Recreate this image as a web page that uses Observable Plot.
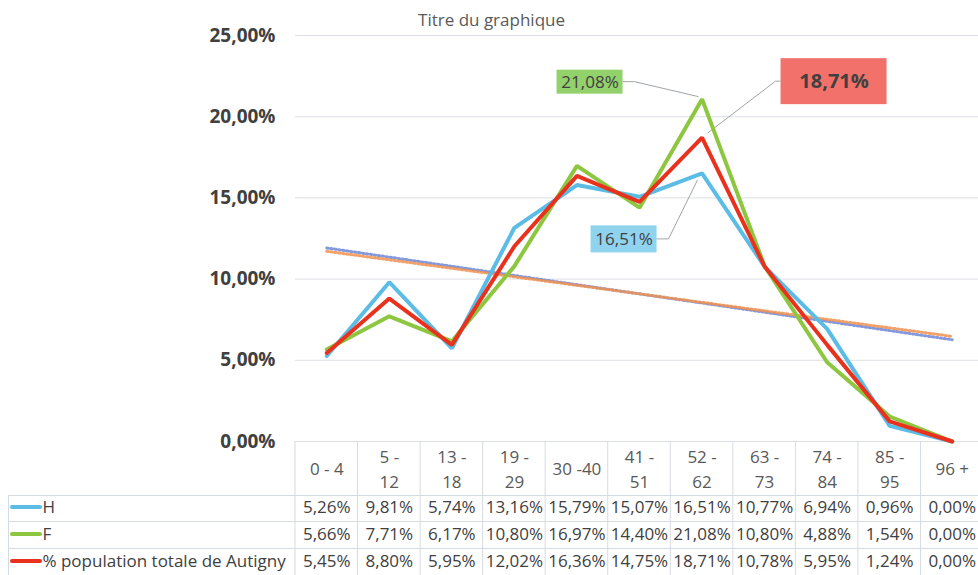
<!DOCTYPE html>
<html>
<head>
<meta charset="utf-8">
<script src="https://cdn.jsdelivr.net/npm/d3@7"></script>
<script src="https://cdn.jsdelivr.net/npm/@observablehq/plot@0.6"></script>
<style>
  html, body { margin: 0; padding: 0; background: #ffffff; }
  #chart svg { display: block; }
</style>
</head>
<body>
<div id="chart"></div>
<script>
// ---- data ----
const categories = ["0 - 4", "5 -\n12", "13 -\n18", "19 -\n29", "30 -40", "41 -\n51", "52 -\n62", "63 -\n73", "74 -\n84", "85 -\n95", "96 +"];
const hValues = [5.26, 9.81, 5.74, 13.16, 15.79, 15.07, 16.51, 10.77, 6.94, 0.96, 0.00];
const fValues = [5.66, 7.71, 6.17, 10.80, 16.97, 14.40, 21.08, 10.80, 4.88, 1.54, 0.00];
const totalValues = [5.45, 8.80, 5.95, 12.02, 16.36, 14.75, 18.71, 10.78, 5.95, 1.24, 0.00];
const seriesNames = ["H", "F", "% population totale de Autigny"];
const yTicks = [0, 5, 10, 15, 20, 25];
const chartTitle = "Titre du graphique";

// ---- styles ----
const seriesColors = ["#5bbce6", "#8dc63f", "#e8321e"];
const trendColors = {H: "#6f86d6", T: "#f0904f"};
const boxFills = ["#8fd3ef", "#93d16c", "#f2716a"];
const textColor = "#404040";
const gridColor = "#dcdfe4";
const font = "'Open Sans', sans-serif";

const fmt = v => v.toFixed(2).replace(".", ",") + "%";

const seriesValues = [hValues, fValues, totalValues];
const rows = seriesNames.flatMap((s, k) => seriesValues[k].map((v, i) => ({series: s, i, value: v})));
const rowsOf = k => rows.filter(d => d.series === seriesNames[k]);

const rowDy = [66, 93, 120];           // table row centres below the frame bottom
const rowLineOffsets = [54, 80, 107];  // table row dividers below the frame bottom
const peak = 6;

// table grid, legend swatches, data-label boxes & leader lines
function decorations(index, scales, values, dimensions) {
  const {x, y} = scales;
  const {width, height, marginBottom} = dimensions;
  const y0 = height - marginBottom;
  const g = d3.create("svg:g");
  const gridStroke = "#d6dbe1";
  for (let i = 0; i <= categories.length; i++) {
    g.append("line").attr("x1", x(i - 0.5)).attr("x2", x(i - 0.5))
      .attr("y1", y0).attr("y2", height).attr("stroke", gridStroke);
  }
  rowLineOffsets.forEach(o => {
    g.append("line").attr("x1", 8).attr("x2", width).attr("y1", y0 + o + 0.5).attr("y2", y0 + o + 0.5).attr("stroke", gridStroke);
  });
  g.append("line").attr("x1", 8.5).attr("x2", 8.5).attr("y1", y0 + rowLineOffsets[0]).attr("y2", height).attr("stroke", gridStroke);
  seriesNames.forEach((s, k) => {
    g.append("line").attr("x1", 12).attr("x2", 40).attr("y1", y0 + rowDy[k]).attr("y2", y0 + rowDy[k])
      .attr("stroke", seriesColors[k]).attr("stroke-width", 4).attr("stroke-linecap", "round");
  });
  const boxes = [
    {k: 0, dx: -78, dy: 66, w: 66, h: 27, leader: [[33, 0], [45, 0], [74, -59]]},
    {k: 1, dx: -112, dy: -17, w: 66, h: 24, leader: [[33, 0], [45, 0], [109, 15]]},
    {k: 2, dx: 132, dy: -56, w: 106, h: 46, leader: [[-53, 0], [-58, 0], [-126, 52]]}
  ];
  boxes.forEach(b => {
    const v = seriesValues[b.k][peak];
    const cx = x(peak) + b.dx, cy = y(v) + b.dy;
    g.append("rect").attr("x", cx - b.w / 2).attr("y", cy - b.h / 2).attr("width", b.w).attr("height", b.h)
      .attr("fill", boxFills[b.k]);
    g.append("polyline").attr("points", b.leader.map(([a, c]) => `${cx + a},${cy + c}`).join(" "))
      .attr("fill", "none").attr("stroke", "#a0a4a8").attr("stroke-width", 1);
  });
  return g.node();
}

const labelOffsets = [[-78, 66, 17, "normal"], [-112, -17, 17, "normal"], [132, -56, 20, "bold"]];

const chart = Plot.plot({
  width: 978,
  height: 575,
  marginTop: 35,
  marginBottom: 134,
  marginLeft: 295,
  marginRight: 0,
  style: {fontFamily: font, color: textColor, background: "#ffffff"},
  x: {domain: [-0.5, categories.length - 0.5], range: [295, 983], axis: null},
  y: {domain: [0, 25], axis: null},
  color: {domain: seriesNames, range: seriesColors},
  marks: [
    Plot.ruleY(yTicks, {y: d => d, stroke: gridColor, strokeWidth: 1}),
    Plot.text(yTicks, {y: d => d, text: d => fmt(d), frameAnchor: "left", dx: -20, textAnchor: "end",
      fontSize: 19, fontWeight: "bold", fill: textColor}),
    Plot.text([chartTitle], {frameAnchor: "top-left", dx: 196, dy: -15, lineAnchor: "middle", textAnchor: "middle", fontSize: 17, fill: "#595959"}),
    decorations,
    Plot.linearRegressionY(rowsOf(0), {x: "i", y: "value", stroke: trendColors.H, ci: 0, strokeWidth: 3, strokeDasharray: "1.5,2.5", strokeOpacity: 0.85}),
    Plot.linearRegressionY(rowsOf(2), {x: "i", y: "value", stroke: trendColors.T, ci: 0, strokeWidth: 3, strokeDasharray: "1.5,2.5", strokeOpacity: 0.85}),
    Plot.line(rows, {x: "i", y: "value", z: "series", stroke: "series", strokeWidth: 4, strokeLinejoin: "miter"}),
    Plot.text(categories, {x: (d, i) => i, text: d => d, frameAnchor: "bottom", dy: 26, lineAnchor: "middle", lineHeight: 1.45,
      fontSize: 17, fill: "#595959"}),
    ...seriesNames.map((s, k) => Plot.text(rowsOf(k), {x: "i", text: d => fmt(d.value), frameAnchor: "bottom",
      dy: rowDy[k], lineAnchor: "middle", fontSize: 17, fill: textColor})),
    ...seriesNames.map((s, k) => Plot.text([s], {frameAnchor: "bottom-left", dx: -253, dy: rowDy[k], lineAnchor: "middle", textAnchor: "start",
      fontSize: 17, fill: textColor})),
    ...seriesNames.map((s, k) => Plot.text(rowsOf(k).filter(d => d.i === peak), {x: "i", y: "value", text: d => fmt(d.value),
      dx: labelOffsets[k][0], dy: labelOffsets[k][1], fontSize: labelOffsets[k][2], fontWeight: labelOffsets[k][3], fill: textColor}))
  ]
});
document.getElementById("chart").append(chart);
</script>
</body>
</html>
